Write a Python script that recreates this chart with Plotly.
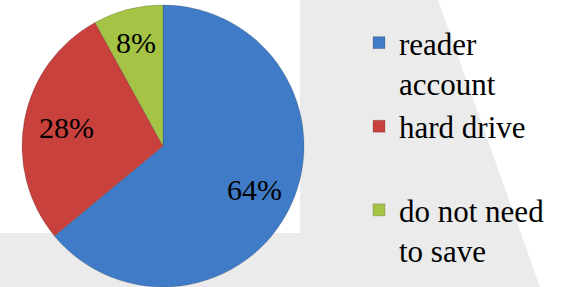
import math
import plotly.graph_objects as go

labels = ["reader<br>account", "hard drive<br> ", "do not need<br>to save"]
values = [64, 28, 8]
colors = ["#3f7bc6", "#c8413c", "#a5c446"]

W, H = 566, 287
cx, cy, r = 163, 146, 141
SERIF = "Liberation Serif"

fig = go.Figure(go.Pie(
    labels=labels,
    values=values,
    sort=False,
    direction="clockwise",
    rotation=0,
    marker=dict(colors=colors, line=dict(color="rgba(40,40,40,0.35)", width=0.6)),
    textinfo="none",
    domain=dict(x=[(cx - r) / W, (cx + r) / W], y=[1 - (cy + r) / H, 1 - (cy - r) / H]),
    hoverinfo="skip",
))

# percentage labels placed at each slice's mid-angle
total = sum(values)
cum = 0
for v, frac in zip(values, [0.72, 0.70, 0.76]):
    mid = (cum + v / 2) / total * 2 * math.pi
    cum += v
    px = cx + frac * r * math.sin(mid)
    py = cy - frac * r * math.cos(mid)
    fig.add_annotation(x=px / W, y=1 - py / H, xref="paper", yref="paper",
                       xanchor="center", yanchor="middle",
                       text=f"{round(v / total * 100)}%", showarrow=False,
                       font=dict(family=SERIF, size=30, color="black", weight="normal"))

# background watermark-like shading
fig.add_shape(type="rect", xref="paper", yref="paper", x0=0, x1=0.56, y0=0, y1=1 - 233 / H,
              fillcolor="#ebebeb", line_width=0, layer="below")
fig.add_shape(type="path", xref="paper", yref="paper",
              path=f"M {300/W},0 L {300/W},1 L {438/W},1 L {540/W},0 Z",
              fillcolor="#ebebeb", line_width=0, layer="below")

fig.update_layout(
    width=W, height=H,
    margin=dict(l=0, r=0, t=0, b=0),
    paper_bgcolor="white",
    plot_bgcolor="white",
    font=dict(family=SERIF, color="black"),
    showlegend=True,
    legend=dict(
        x=359 / W, y=1 - 16 / H, xanchor="left", yanchor="top",
        font=dict(family=SERIF, size=31, color="black", weight="normal"),
        valign="top",
        bgcolor="rgba(0,0,0,0)",
        itemclick=False,
    ),
)

post = """
document.body.style.margin='0';
var gd = document.getElementsByClassName('plotly-graph-div')[0];
if (document.fonts && document.fonts.ready) {
  document.fonts.ready.then(function(){ Plotly.relayout(gd, {}); });
}
"""
fig.write_html("out.html", config={"displayModeBar": False}, post_script=post)
